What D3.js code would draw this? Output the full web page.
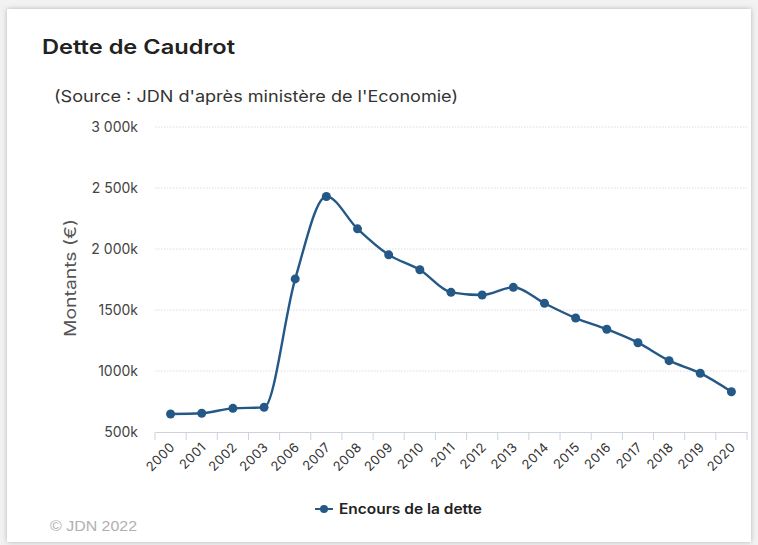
<!DOCTYPE html>
<html><head><meta charset="utf-8">
<script src="https://cdn.jsdelivr.net/npm/d3@7"></script>
<style>
html,body{margin:0;padding:0;background:#f2f2f2;}
svg{display:block;}
</style></head>
<body>
<svg id="c" width="758" height="545"></svg>
<script>
const years = ["2000","2001","2002","2003","2006","2007","2008","2009","2010","2011","2012","2013","2014","2015","2016","2017","2018","2019","2020"];
const debt = [648,654,694,702,1755,2430,2165,1952,1830,1645,1623,1686,1555,1434,1342,1232,1085,982,830];
const yTicks = [500,1000,1500,2000,2500,3000];
const yTickLabels = ["500k","1000k","1500k","2 000k","2 500k","3 000k"];
const seriesName = "Encours de la dette";

const svg = d3.select("#c");
const defs = svg.append("defs");
const f = defs.append("filter").attr("id","sh").attr("x","-5%").attr("y","-5%").attr("width","110%").attr("height","110%");
f.append("feDropShadow").attr("dx",0).attr("dy",0).attr("stdDeviation",2.5).attr("flood-color","#888").attr("flood-opacity",0.6);

svg.append("rect").attr("x",7).attr("y",9).attr("width",744).attr("height",533)
  .attr("fill","#fff").attr("filter","url(#sh)");

const font = "Inter, 'Noto Sans', sans-serif";
svg.append("text").attr("x",42).attr("y",54).text("Dette de Caudrot")
  .attr("font-family",font).attr("font-weight",600).attr("font-size",20).attr("fill","#222")
  .attr("textLength",193).attr("lengthAdjust","spacingAndGlyphs");
svg.append("text").attr("x",54).attr("y",102).text("(Source : JDN d'après ministère de l'Economie)")
  .attr("font-family",font).attr("font-size",16).attr("fill","#333")
  .attr("textLength",404).attr("lengthAdjust","spacingAndGlyphs");

const x = d3.scaleBand().domain(years).range([155,747]);
const y = d3.scaleLinear().domain([500,3000]).range([432,127]);

// grid
svg.append("g").selectAll("line").data(yTicks.slice(1)).join("line")
  .attr("x1",155).attr("x2",747).attr("y1",d=>y(d)).attr("y2",d=>y(d))
  .attr("stroke","#dcdcdc").attr("stroke-width",1).attr("stroke-dasharray","1.5,1.5");

// y labels
svg.append("g").selectAll("text").data(yTicks).join("text")
  .attr("x",138).attr("y",d=>y(d)+5).attr("text-anchor","end")
  .text((d,i)=>yTickLabels[i])
  .attr("font-family",font).attr("font-size",14).attr("fill","#444");

// x axis
const xAxis = d3.axisBottom(x).tickSize(8).tickSizeOuter(0).tickFormat("");
const gx = svg.append("g").attr("transform","translate(0,432)").call(xAxis);
gx.select(".domain").attr("stroke","#ccd3dc");
gx.selectAll(".tick").remove();
const bounds = years.map(yr=>x(yr)).concat([x(years[years.length-1])+x.bandwidth()]);
gx.selectAll(".tk").data(bounds).join("line").attr("class","tk")
  .attr("x1",d=>d).attr("x2",d=>d).attr("y1",0).attr("y2",8).attr("stroke","#ccd3dc");

svg.append("g").selectAll("text").data(years).join("text")
  .attr("transform",d=>`translate(${x(d)+x.bandwidth()/2+5},${448}) rotate(-45)`)
  .attr("text-anchor","end").text(d=>d)
  .attr("font-family",font).attr("font-size",13).attr("letter-spacing",0.4).attr("fill","#333");

// axis title
svg.append("text").attr("transform","translate(76,278) rotate(-90)").attr("text-anchor","middle")
  .text("Montants (€)").attr("font-family",font).attr("font-size",16).attr("fill","#555")
  .attr("textLength",118).attr("lengthAdjust","spacingAndGlyphs");

// line
const color = "#245887";
const line = d3.line().x((d,i)=>x(years[i])+x.bandwidth()/2).y(d=>y(d)).curve(d3.curveMonotoneX);
svg.append("path").datum(debt).attr("d",line).attr("fill","none").attr("stroke",color).attr("stroke-width",2.4);
svg.append("g").selectAll("circle").data(debt).join("circle")
  .attr("cx",(d,i)=>x(years[i])+x.bandwidth()/2).attr("cy",d=>y(d)).attr("r",4.5).attr("fill",color);

// legend
svg.append("line").attr("x1",315).attr("x2",333).attr("y1",509).attr("y2",509).attr("stroke",color).attr("stroke-width",2);
svg.append("circle").attr("cx",324).attr("cy",509).attr("r",4).attr("fill",color);
svg.append("text").attr("x",339).attr("y",514).text(seriesName)
  .attr("font-family",font).attr("font-weight",600).attr("font-size",14).attr("fill","#222")
  .attr("textLength",143).attr("lengthAdjust","spacingAndGlyphs");

svg.append("text").attr("x",50).attr("y",531).text("© JDN 2022")
  .attr("font-family","'Liberation Sans', Arial, sans-serif").attr("font-size",14).attr("fill","#b0b0b0")
  .attr("textLength",87).attr("lengthAdjust","spacingAndGlyphs");
</script>
</body></html>
